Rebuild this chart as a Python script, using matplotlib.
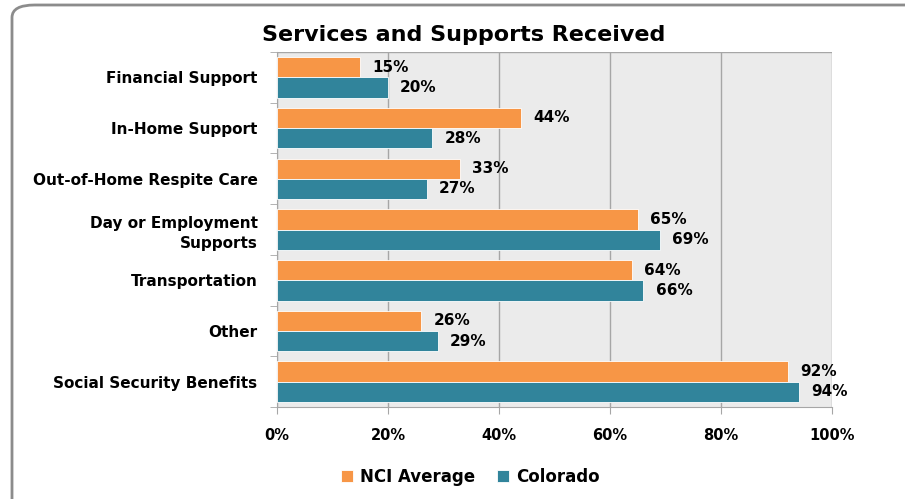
import matplotlib.pyplot as plt
import numpy as np
from matplotlib.patches import FancyBboxPatch
from matplotlib.ticker import FixedLocator

plt.rcParams['font.family'] = ['DejaVu Sans']

categories = ["Financial Support", "In-Home Support", "Out-of-Home Respite Care",
              "Day or Employment\nSupports", "Transportation", "Other",
              "Social Security Benefits"]
nci = [15, 44, 33, 65, 64, 26, 92]
colorado = [20, 28, 27, 69, 66, 29, 94]
xticks = [0, 20, 40, 60, 80, 100]

orange = '#F79646'
teal = '#31849B'
grid_c = '#A6A6A6'

fig = plt.figure(figsize=(9.05, 4.99), dpi=100)

# rounded frame round the chart
frame = FancyBboxPatch((12 / 905, -0.05), 1.05, 1.05 - 5 / 499,
                       boxstyle="round,pad=0,rounding_size=0.025",
                       transform=fig.transFigure, fill=False,
                       edgecolor='#8C8C8C', linewidth=2, clip_on=False)
fig.patches.append(frame)

ax = fig.add_axes([277 / 905, 1 - 407 / 499, 555 / 905, 355 / 499])
ax.set_facecolor('#EBEBEB')

y = np.arange(len(categories))
h = 0.4
ax.barh(y - h / 2, nci, height=h, color=orange, edgecolor='white', linewidth=0.6,
        label='NCI Average', zorder=3)
ax.barh(y + h / 2, colorado, height=h, color=teal, edgecolor='white', linewidth=0.6,
        label='Colorado', zorder=3)

for i in range(len(categories)):
    ax.text(nci[i] + 2.2, y[i] - h / 2, f"{nci[i]}%", va='center', ha='left',
            fontsize=11, fontweight='bold', color='black', zorder=4)
    ax.text(colorado[i] + 2.2, y[i] + h / 2, f"{colorado[i]}%", va='center', ha='left',
            fontsize=11, fontweight='bold', color='black', zorder=4)

ax.set_xlim(0, 100)
ax.set_ylim(len(categories) - 0.5, -0.5)
ax.set_xticks(xticks)
ax.set_xticklabels([f"{t}%" for t in xticks], fontsize=10.5, fontweight='bold')
ax.set_yticks(y)
ax.set_yticklabels(categories, fontsize=11, fontweight='bold', linespacing=1.4)
ax.yaxis.set_minor_locator(FixedLocator(np.arange(-0.5, len(categories), 1)))
ax.tick_params(axis='y', which='major', length=0, pad=14)
ax.tick_params(axis='y', which='minor', length=5, color=grid_c)
ax.tick_params(axis='x', length=5, color=grid_c, pad=10)
ax.grid(axis='x', color=grid_c, linewidth=1, zorder=1)
for s in ['top', 'right']:
    ax.spines[s].set_visible(False)
ax.spines['left'].set_color(grid_c)
ax.spines['bottom'].set_color(grid_c)
ax.axhline(-0.5, color=grid_c, linewidth=1, zorder=1)

fig.text(464 / 905, 1 - 35 / 499, "Services and Supports Received", ha='center',
         va='center', fontsize=16, fontweight='bold')

ax.legend(loc='center', bbox_to_anchor=(470 / 905, 1 - 477 / 499),
          bbox_transform=fig.transFigure, ncol=2, frameon=False,
          prop={'size': 12, 'weight': 'bold'}, handlelength=0.75, handleheight=0.75,
          columnspacing=1.3, handletextpad=0.4)

fig.savefig('out.png', dpi=100)
